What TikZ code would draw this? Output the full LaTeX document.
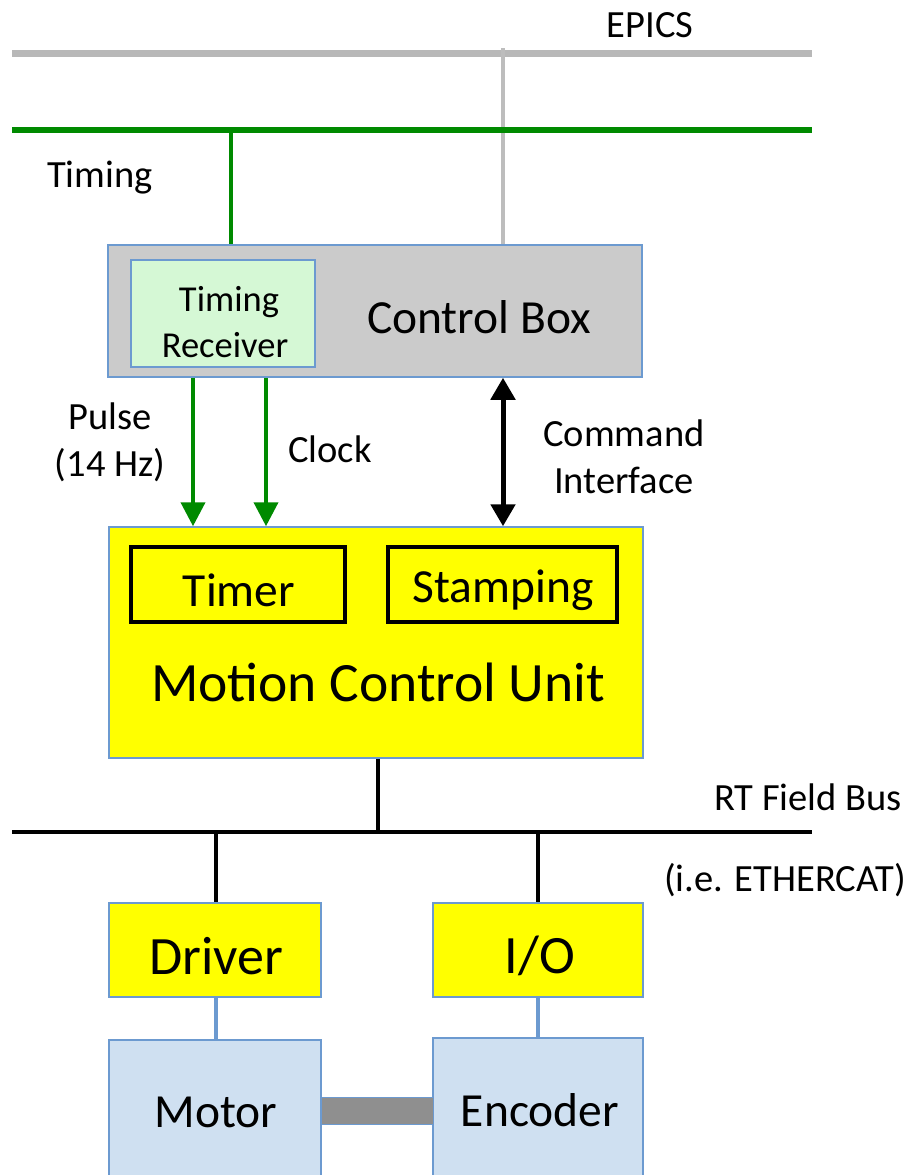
\documentclass[tikz,border=0pt]{standalone}
\usepackage{fontspec}
\setmainfont{Carlito}
\usetikzlibrary{arrows.meta}
\definecolor{bord}{HTML}{6C9AD0}
\definecolor{epicsgray}{HTML}{B8B8B8}
\definecolor{vgray}{HTML}{BDBDBD}
\definecolor{tgreen}{HTML}{008A00}
\definecolor{cbgray}{HTML}{CBCBCB}
\definecolor{trgreen}{HTML}{D5F8D5}
\definecolor{myyellow}{HTML}{FFFF00}
\definecolor{motblue}{HTML}{CFE0F1}
\definecolor{shaft}{HTML}{8F8F8F}
\tikzset{
  box/.style={draw=bord, line width=1.5pt, inner sep=0pt, rectangle},
  subbox/.style={draw=black, line width=3.5pt, inner sep=0pt, rectangle, fill=myyellow},
  lbl/.style={font=\fontsize{38.5}{47}\selectfont, align=center, inner sep=0pt},
  big/.style={font=\fontsize{47.5}{56}\selectfont, inner sep=0pt},
  huge/.style={font=\fontsize{54}{62}\selectfont, inner sep=0pt},
  garrow/.style={draw=tgreen, line width=4pt, -{Triangle[width=24pt,length=24pt]}},
  barrow/.style={draw=black, line width=5pt, {Triangle[width=24pt,length=22pt]}-{Triangle[width=24pt,length=22pt]}},
  busline/.style={draw=black, line width=4.5pt},
  blueline/.style={draw=bord, line width=4pt}
}
\begin{document}
\begin{tikzpicture}[x=1pt,y=-1pt]
\useasboundingbox[fill=white] (0,0) rectangle (912,1175);

% EPICS and timing lines
\coordinate (epL) at (12,53);
\coordinate (epR) at (812,53);
\coordinate (tmL) at (12,130);
\coordinate (tmR) at (812,130);
\draw[draw=epicsgray, line width=7pt] (epL) -- (epR);
\node[lbl] (epics) at (650,25) {EPICS};

% Control box
\node[box, fill=cbgray, minimum width=534, minimum height=132] (cb) at (375,311) {};
\node[box, fill=trgreen, minimum width=184, minimum height=107] (tr) at (223,313.5) {};
\node[font=\fontsize{36.5}{46}\selectfont, align=center, inner sep=0pt] (trtext) at (225,322) {\hspace*{8pt}Timing\\Receiver};
\node[big] (cbtext) at (479,317) {Control Box};

\coordinate (epdrop) at (503,48);
\draw[draw=vgray, line width=4pt] (epdrop) -- (epdrop |- cb.north);
\draw[draw=tgreen, line width=6pt] (tmL) -- (tmR);
\coordinate (tmdrop) at (231,130);
\draw[draw=tgreen, line width=4pt] (tmdrop) -- (tmdrop |- cb.north);
\node[lbl] (timing) at (100,178) {Timing};

% Motion control unit
\node[box, fill=myyellow, minimum width=534, minimum height=231] (mcu) at (376,642.5) {};
\node[subbox, minimum width=214, minimum height=75] (timer) at (238,584.5) {};
\node[subbox, minimum width=229, minimum height=75] (stamp) at (502.5,584.5) {};
\node[big] (timertext) at (239,590) {Timer};
\node[big] (stamptext) at (503,590) {Stamping};
\node[font=\fontsize{55.5}{64}\selectfont, inner sep=0pt] (mcutext) at (378,682) {Motion Control Unit};

% arrows between control box and MCU
\coordinate (pulseX) at (193,0);
\coordinate (clockX) at (266,0);
\coordinate (cmdX) at (503,0);
\draw[garrow] (pulseX |- cb.south) -- (pulseX |- mcu.north);
\draw[garrow] (clockX |- cb.south) -- (clockX |- mcu.north);
\draw[barrow] (cmdX |- cb.south) -- (cmdX |- mcu.north);
\node[lbl] (pulse) at (110,442) {Pulse\\(14 Hz)};
\node[lbl] (clock) at (330,449) {Clock};
\node[lbl] (cmd) at (624,457) {Command\\Interface};

% Field bus
\coordinate (busL) at (12,832);
\coordinate (busR) at (812,832);
\coordinate (busM) at (378,832);
\draw[busline] (busL) -- (busR);
\draw[busline] (mcu.south -| busM) -- (busM);
\node[lbl] (rtbus) at (808,797) {RT Field Bus};
\node[lbl] (ether) at (785,880) {(i.e. ETHERCAT)};

% Driver and I/O
\node[box, fill=myyellow, minimum width=212, minimum height=94] (drv) at (215,950) {};
\node[box, fill=myyellow, minimum width=210, minimum height=94] (io) at (538,950) {};
\node[huge] (drvtext) at (216,956) {Driver};
\node[huge] (iotext) at (540,956) {I/O};
\coordinate (drvtap) at (216,832);
\coordinate (iotap) at (538,832);
\draw[busline] (drvtap) -- (drvtap |- drv.north);
\draw[busline] (iotap) -- (iotap |- io.north);

% Motor and encoder
\node[box, fill=motblue, minimum width=212, minimum height=150] (motor) at (215,1115) {};
\node[box, fill=motblue, minimum width=210, minimum height=152] (enc) at (538,1114) {};
\node[big] (mottext) at (216,1112) {Motor};
\node[big] (enctext) at (540,1110) {Encoder};
\draw[blueline] (drv.south -| drvtap) -- (motor.north -| drvtap);
\draw[blueline] (io.south -| iotap) -- (enc.north -| iotap);
\node[draw=bord, line width=1pt, fill=shaft, inner sep=0pt, minimum height=27, minimum width=112] (shaftnode) at (377,1110.5) {};
\end{tikzpicture}
\end{document}
